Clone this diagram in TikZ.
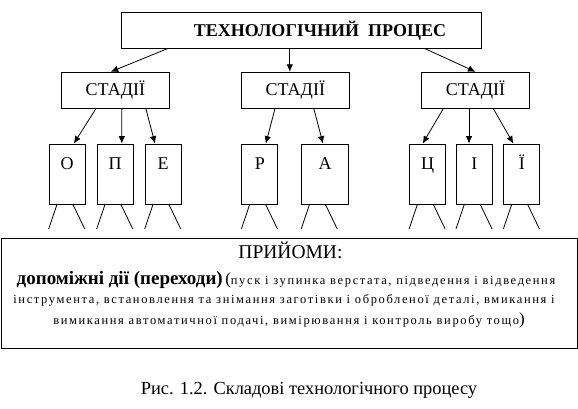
\documentclass[tikz,border=0pt]{standalone}
\usepackage{fontspec}
\setmainfont{Liberation Serif}
\newfontfamily\spacedfont[LetterSpace=13]{Liberation Serif}
\usetikzlibrary{arrows.meta}
\tikzset{>={Latex[length=7.5pt,width=6.5pt]}}

\begin{document}
\begin{tikzpicture}[x=1pt, y=-1pt, line width=0.8pt]
    \useasboundingbox (0,0) rectangle (578,409);
    \tikzset{
        box/.style={draw, inner sep=0pt},
        stagebox/.style={box, minimum width=108pt, minimum height=36pt, font=\fontsize{18}{20}\selectfont},
        opbox/.style={box, minimum width=36pt, text height=25pt, text depth=35pt, font=\fontsize{18}{20}\selectfont},
        smalltext/.style={anchor=base, inner sep=0pt, font=\spacedfont\fontsize{12.5}{14}\selectfont}
    }
    % process
    \node[box, minimum width=360pt, minimum height=36pt, font=\bfseries\fontsize{18}{20}\selectfont] (proc) at (301.75,30.3) {\hspace*{36.5pt}ТЕХНОЛОГІЧНИЙ\ \ ПРОЦЕС};

    % stages
    \node[stagebox] (stage1) at (115.35,90.2) {СТАДІЇ};
    \node[stagebox] (stage2) at (295.3,90.2) {СТАДІЇ};
    \node[stagebox] (stage3) at (475.5,90.2) {СТАДІЇ};

    \draw[->] ([xshift=46pt]proc.south west) -- ([xshift=-4.6pt]stage1.north);
    \draw[->] ([xshift=-5.5pt]stage2.north |- proc.south) -- ([xshift=-5.5pt]stage2.north);
    \draw[->] ([xshift=-57pt]proc.south east) -- (stage3.north);

    % operations
    \node[opbox] (o) at (67.1,174) {О};
    \node[opbox] (p) at (115.1,174) {П};
    \node[opbox] (e) at (163.1,174) {Е};
    \node[opbox] (r) at (259.8,174) {Р};
    \node[opbox, minimum width=47pt] (a) at (325.1,174) {А};
    \node[opbox] (ts) at (427.5,174) {Ц};
    \node[opbox] (i) at (474.4,174) {І};
    \node[opbox] (yi) at (521.8,174) {Ї};

    \draw[->] ([xshift=-19.4pt]stage1.south) -- ([xshift=6.7pt]o.north);
    \draw[->] ([xshift=6.5pt]stage1.south) -- ([xshift=6.7pt]p.north);
    \draw[->] ([xshift=30.5pt]stage1.south) -- ([xshift=-8.1pt]e.north);
    \draw[->] ([xshift=-20.3pt]stage2.south) -- ([xshift=6pt]r.north);
    \draw[->] ([xshift=18.5pt]stage2.south) -- ([xshift=-2.1pt]a.north);
    \draw[->] ([xshift=-32.2pt]stage3.south) -- ([xshift=-4.8pt]ts.north);
    \draw[->] ([xshift=-6.5pt]stage3.south) -- ([xshift=-5.4pt]i.north);
    \draw[->] ([xshift=17.8pt]stage3.south) -- ([xshift=-8.5pt]yi.north);

    \foreach \b in {o,p,e,r,a,ts,i,yi} {
        \draw (\b.south west) ++(8.3,0) -- ++(-8.3,24.5);
        \draw (\b.south west) ++(24.2,0) -- ++(11.8,24.5);
    }

    % techniques
    \node[box, minimum width=575.9pt, minimum height=109.8pt] (techniques) at (289.75,293.4) {};
    \node[anchor=base, inner sep=0pt, font=\fontsize{19.5}{20}\selectfont] (techtitle) at (290.5,258) {ПРИЙОМИ:};
    \node[anchor=base, inner sep=0pt] (techline1) at (286,284) {{\bfseries\fontsize{19}{20}\selectfont допоміжні дії (переходи)} {\fontsize{17}{20}\selectfont(}{\spacedfont\fontsize{12.5}{14}\selectfont пуск і зупинка верстата, підведення і відведення}};
    \node[smalltext] (techline2) at (284,303.5) {інструмента, встановлення та знімання заготівки і обробленої деталі, вмикання і};
    \node[anchor=base, inner sep=0pt] (techline3) at (289,324) {{\spacedfont\fontsize{12.5}{14}\selectfont вимикання автоматичної подачі, вимірювання і контроль виробу тощо}{\fontsize{17}{20}\selectfont)}};

    \node[anchor=base, inner sep=0pt, font=\fontsize{18.4}{20}\selectfont] (caption) at (309,394) {Рис. 1.2. Складові технологічного процесу};
\end{tikzpicture}
\end{document}
